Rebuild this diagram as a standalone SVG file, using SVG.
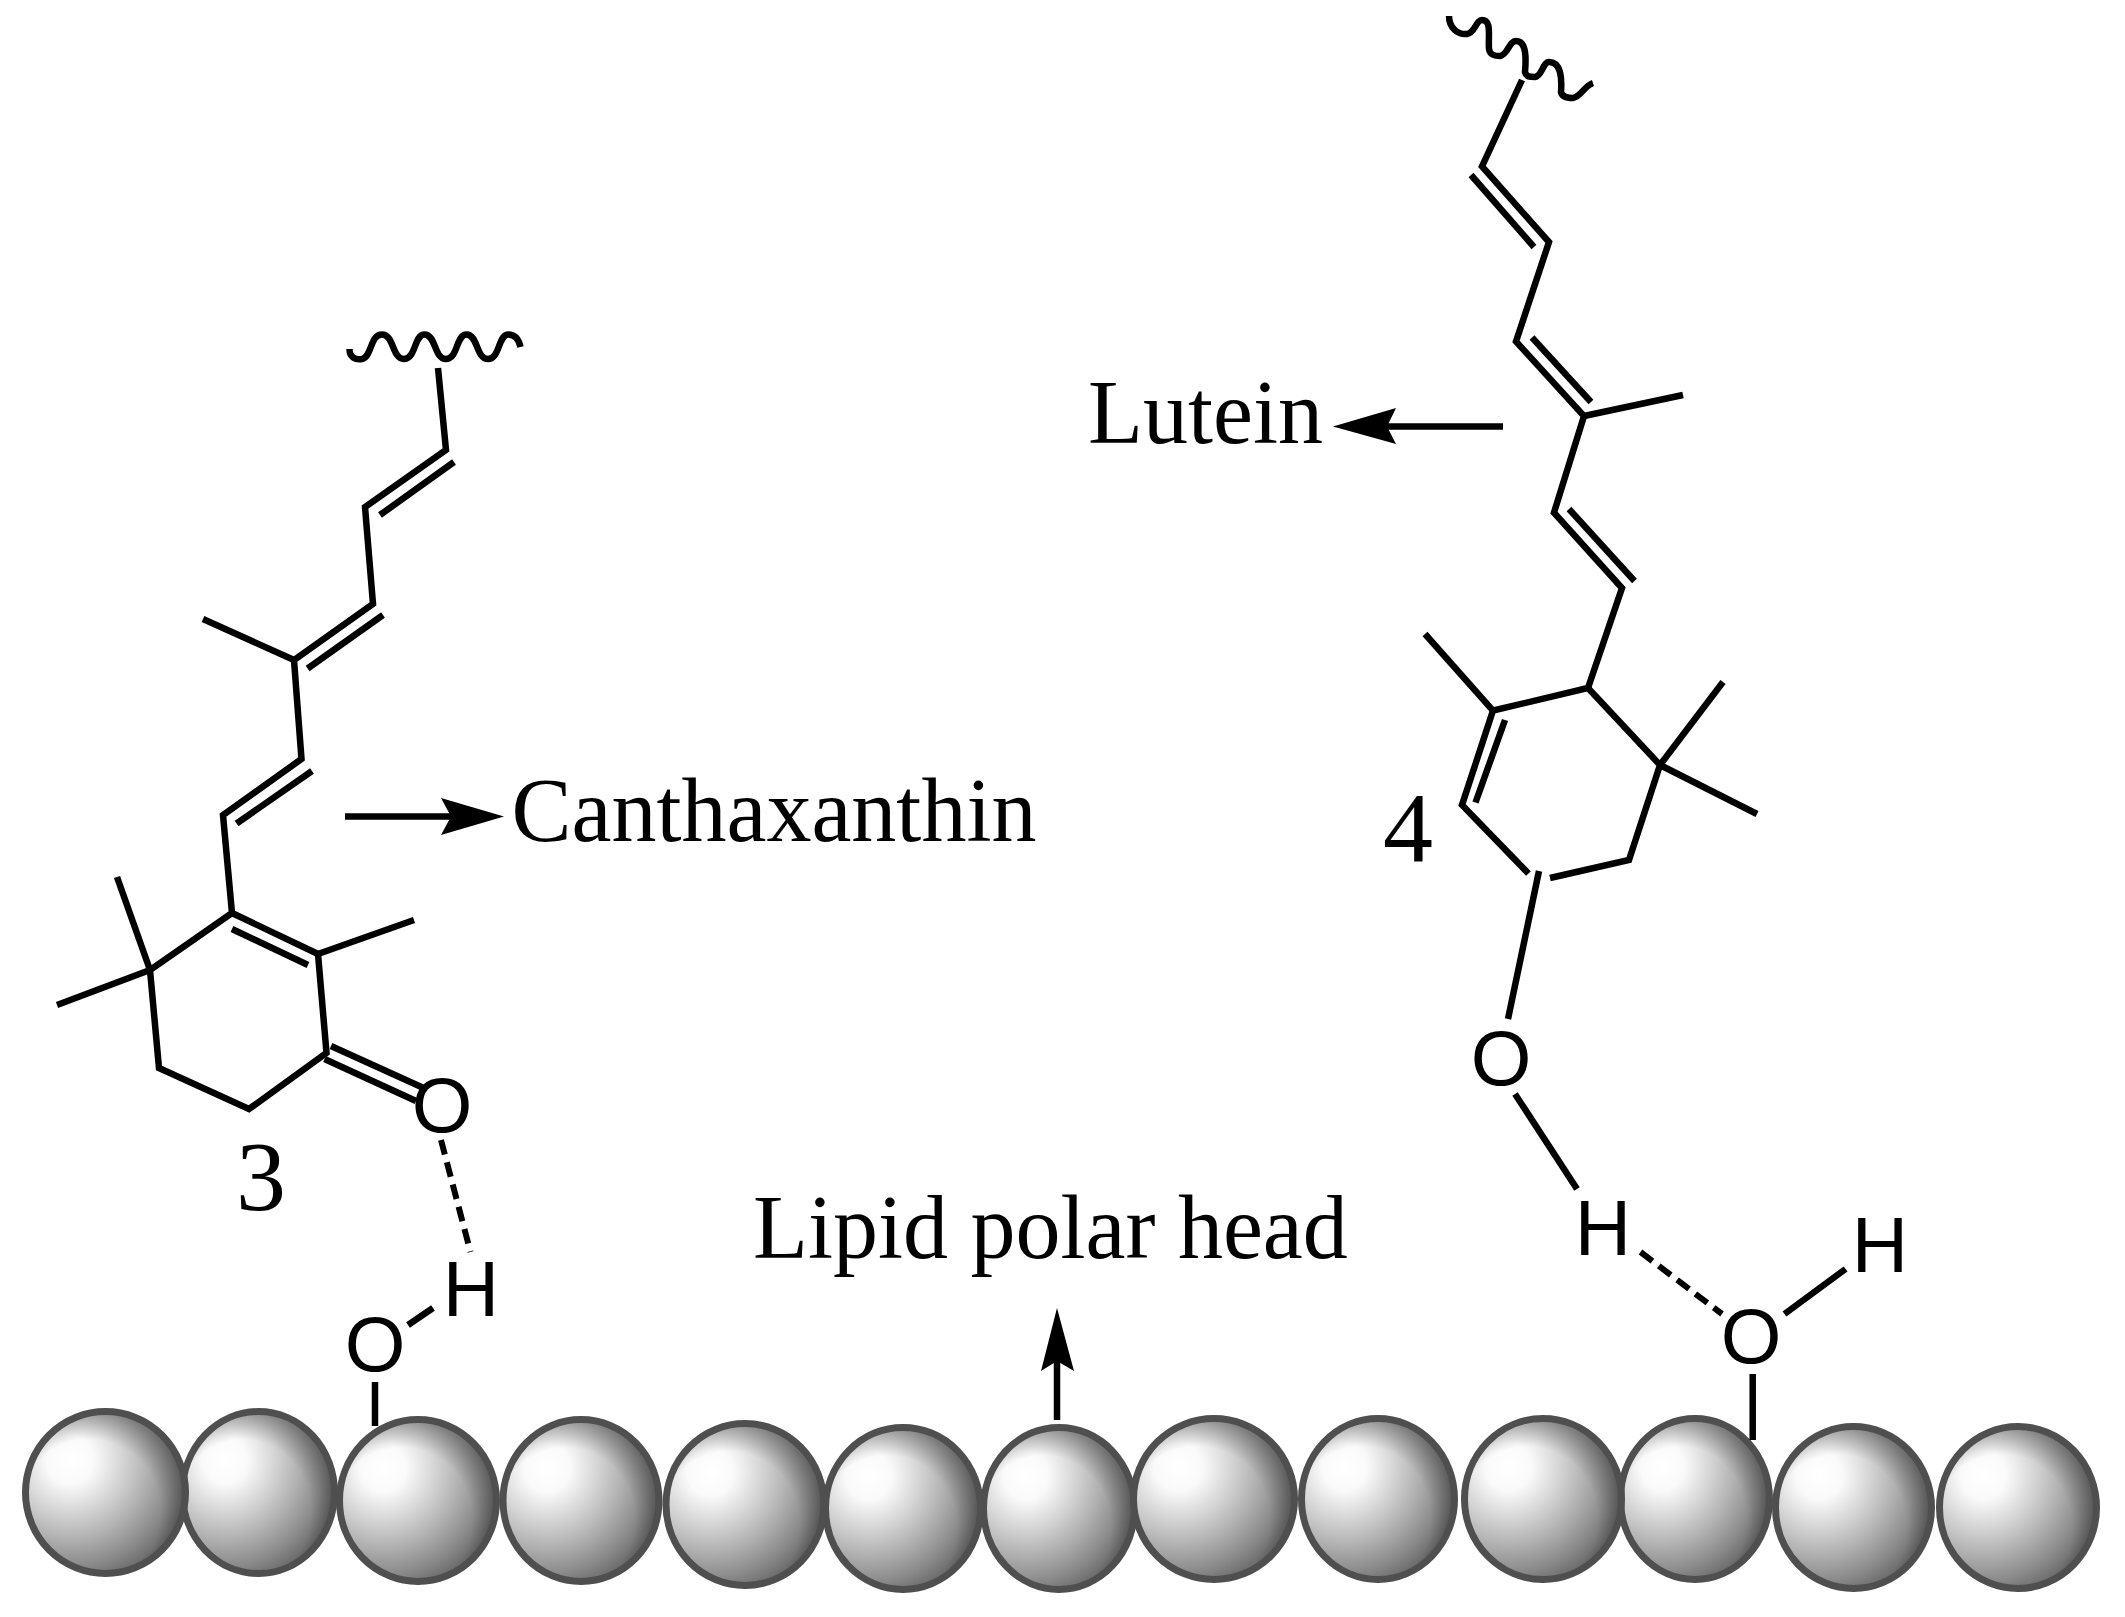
<svg xmlns="http://www.w3.org/2000/svg" width="2125" height="1617" viewBox="0 0 2125 1617">
<style>
.b{fill:none;stroke:#000;stroke-width:6.5;stroke-linejoin:miter;stroke-linecap:butt}
.d{fill:none;stroke:#000;stroke-width:6;stroke-dasharray:15 8}
.f{fill:url(#ball);stroke:none}
.t{fill:url(#shade);stroke:#4f4f4f;stroke-width:7}
.lbl{font-family:"Liberation Serif","Times New Roman",serif;font-size:90px;fill:#000}
.num{font-family:"Liberation Serif","Times New Roman",serif;font-size:100px;fill:#000}
.atom{font-family:"Liberation Sans",Arial,sans-serif;font-size:78px;fill:#000;text-anchor:middle}
</style>
<defs>
<radialGradient id="ball" cx="0.28" cy="0.3" r="0.82">
<stop offset="0" stop-color="#ffffff"/>
<stop offset="0.18" stop-color="#fafafa"/>
<stop offset="0.4" stop-color="#d4d4d4"/>
<stop offset="0.6" stop-color="#b0b0b0"/>
<stop offset="0.8" stop-color="#8a8a8a"/>
<stop offset="1" stop-color="#5e5e5e"/>
</radialGradient>
<radialGradient id="shade" cx="0.4" cy="0.62" r="0.62">
<stop offset="0" stop-color="#000" stop-opacity="0"/>
<stop offset="0.72" stop-color="#000" stop-opacity="0"/>
<stop offset="1" stop-color="#000" stop-opacity="0.3"/>
</radialGradient>
</defs>
<g id="lipid-layer">
<g id="s2"><ellipse class="f" cx="258.5" cy="1492.5" rx="76" ry="81"/><ellipse class="t" cx="258.5" cy="1492.5" rx="76" ry="81"/></g>
<g id="s1"><ellipse class="f" cx="105.5" cy="1492.5" rx="80" ry="81"/><ellipse class="t" cx="105.5" cy="1492.5" rx="80" ry="81"/></g>
<g id="s3"><ellipse class="f" cx="418" cy="1500.5" rx="78.5" ry="81"/><ellipse class="t" cx="418" cy="1500.5" rx="78.5" ry="81"/></g>
<g id="s4"><ellipse class="f" cx="581" cy="1500.5" rx="78" ry="81"/><ellipse class="t" cx="581" cy="1500.5" rx="78" ry="81"/></g>
<g id="s7"><ellipse class="f" cx="1059" cy="1508.4" rx="75.5" ry="81"/><ellipse class="t" cx="1059" cy="1508.4" rx="75.5" ry="81"/></g>
<g id="s6"><ellipse class="f" cx="903" cy="1508.4" rx="77.5" ry="81"/><ellipse class="t" cx="903" cy="1508.4" rx="77.5" ry="81"/></g>
<g id="s5"><ellipse class="f" cx="745" cy="1504.5" rx="79" ry="81"/><ellipse class="t" cx="745" cy="1504.5" rx="79" ry="81"/></g>
<g id="s9"><ellipse class="f" cx="1378" cy="1499" rx="76.5" ry="80.5"/><ellipse class="t" cx="1378" cy="1499" rx="76.5" ry="80.5"/></g>
<g id="s8"><ellipse class="f" cx="1214" cy="1499" rx="80.5" ry="80.5"/><ellipse class="t" cx="1214" cy="1499" rx="80.5" ry="80.5"/></g>
<g id="s13"><ellipse class="f" cx="2018" cy="1507.5" rx="78.5" ry="81"/><ellipse class="t" cx="2018" cy="1507.5" rx="78.5" ry="81"/></g>
<g id="s12"><ellipse class="f" cx="1853.5" cy="1507.5" rx="78" ry="81"/><ellipse class="t" cx="1853.5" cy="1507.5" rx="78" ry="81"/></g>
<g id="s11"><ellipse class="f" cx="1695" cy="1499" rx="74.5" ry="80.5"/><ellipse class="t" cx="1695" cy="1499" rx="74.5" ry="80.5"/></g>
<g id="s10"><ellipse class="f" cx="1543" cy="1499" rx="78.5" ry="80.5"/><ellipse class="t" cx="1543" cy="1499" rx="78.5" ry="80.5"/></g>
</g>
<g id="connectors">
<line class="b" x1="375" y1="1382" x2="375" y2="1426"/>
<line class="b" x1="1752.7" y1="1374" x2="1752.7" y2="1440"/>
<line class="b" x1="408" y1="1325" x2="433" y2="1308"/>
<line class="b" x1="1784.5" y1="1314" x2="1845.6" y2="1269"/>
<line class="b" x1="1515" y1="1094" x2="1577" y2="1189"/>
<line class="d" x1="441" y1="1140" x2="470.5" y2="1252"/>
<line class="d" x1="1640.5" y1="1252" x2="1722" y2="1314"/>
<line class="b" x1="1057" y1="1360" x2="1057" y2="1420"/>
<line class="b" x1="345" y1="816.6" x2="452" y2="816.6"/>
<line class="b" x1="1385" y1="426.5" x2="1503" y2="426.5"/>
<path d="M1057,1308 L1074,1371 L1057,1361 L1041,1371 Z" fill="#000"/>
<path d="M504,816.6 L441,798 L451,816.6 L441,835 Z" fill="#000"/>
<path d="M1333,426.5 L1396,408 L1387,426.5 L1396,444 Z" fill="#000"/>
</g>
<g id="canthaxanthin">
<path class="b" d="M349.5,349 C349.5,358 356,360 362,359 C372,357 370,334.4 382,334.4 C394,334.4 392,359 404,359 C416,359 414,334.4 424.5,334.4 C436,334.4 434,359 446,359 C458,359 456,334.4 466.5,334.4 C478,334.4 476,359 488,359 C500,359 498,334.4 508.4,334.4 C516,334.4 519,340 520.5,347"/>
<polyline class="b" points="438,368 446,450 365,507 373,604 294,660 301.5,759 223,815 232,913 318,954 326.5,1053 249,1109 159,1068 150,970 232,913"/>
<line class="b" x1="454" y1="462" x2="380" y2="515"/>
<line class="b" x1="383" y1="615" x2="307.6" y2="668.5"/>
<line class="b" x1="312" y1="771" x2="236.6" y2="823.5"/>
<line class="b" x1="232" y1="929" x2="308" y2="965"/>
<line class="b" x1="294" y1="660" x2="203" y2="619"/>
<line class="b" x1="318" y1="954" x2="414" y2="920"/>
<line class="b" x1="150" y1="970" x2="117" y2="877"/>
<line class="b" x1="150" y1="970" x2="57" y2="1005"/>
<line class="b" x1="331" y1="1046" x2="422.5" y2="1087.5"/>
<line class="b" x1="324.5" y1="1059" x2="416" y2="1101"/>
</g>
<g id="lutein">
<path class="b" d="M1449,16 C1449,28 1458,35 1467,34 C1475,33 1476,20 1482,20 C1492,20 1488,36 1489,49 C1490,55 1494,56 1500,56 C1508,55 1509,41 1516,41 C1527,41 1526,60 1525,72 C1526,77 1530,77 1535,77 C1542,76 1543,62 1549,62 C1561,62 1562,78 1561,92 C1562,97 1567,98 1573,98 C1581,97 1584,86 1593,83"/>
<polyline class="b" points="1522,80 1482,166.5 1549,242 1516,341.5 1584,416 1554,512.6 1622,588 1588,688 1493,710.6 1462,805 1528.5,873.6"/>
<line class="b" x1="1471" y1="175" x2="1534" y2="247"/>
<line class="b" x1="1532" y1="337.5" x2="1591" y2="402"/>
<line class="b" x1="1584" y1="416" x2="1683" y2="395"/>
<line class="b" x1="1569" y1="509" x2="1634.5" y2="581"/>
<line class="b" x1="1493" y1="710.6" x2="1425" y2="634"/>
<line class="b" x1="1505" y1="720" x2="1475.5" y2="802.5"/>
<polyline class="b" points="1550,878 1629,860 1660,765 1588,688"/>
<line class="b" x1="1660" y1="765" x2="1723" y2="682"/>
<line class="b" x1="1660" y1="765" x2="1757" y2="814"/>
<line class="b" x1="1539" y1="871" x2="1508" y2="1019"/>
</g>
<g id="labels">
<text class="lbl" x="511.5" y="841">Canthaxanthin</text>
<text class="lbl" x="1088" y="443">Lutein</text>
<text class="lbl" x="753" y="1258">Lipid polar head</text>
<text class="num" x="236" y="1210">3</text>
<text class="num" x="1383" y="861">4</text>
<text class="atom" x="442" y="1132">O</text>
<text class="atom" x="375" y="1371">O</text>
<text class="atom" x="471" y="1316">H</text>
<text class="atom" x="1501" y="1085">O</text>
<text class="atom" x="1603" y="1255">H</text>
<text class="atom" x="1751" y="1362.5">O</text>
<text class="atom" x="1880" y="1272">H</text>
</g>
</svg>
